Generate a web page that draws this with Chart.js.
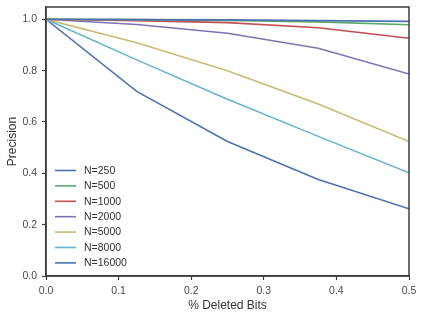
<!DOCTYPE html>
<html><head><meta charset="utf-8">
<script src="https://cdn.jsdelivr.net/npm/chart.js@4"></script>
<style>html,body{margin:0;padding:0;background:#fff}#wrap{width:423px;height:320px}</style>
</head><body><div id="wrap"><canvas id="c" width="423" height="320"></canvas></div>
<script>
const xValues = [0, 0.125, 0.25, 0.375, 0.5];
const labels = ["N=250","N=500","N=1000","N=2000","N=5000","N=8000","N=16000"];
const n250   = [1.0, 0.999, 0.998, 0.995, 0.992];
const n500   = [1.0, 0.999, 0.996, 0.990, 0.979];
const n1000  = [1.0, 0.995, 0.987, 0.967, 0.926];
const n2000  = [1.0, 0.980, 0.946, 0.887, 0.787];
const n5000  = [1.0, 0.909, 0.800, 0.670, 0.524];
const n8000  = [1.0, 0.842, 0.689, 0.544, 0.402];
const n16000 = [1.0, 0.719, 0.524, 0.376, 0.262];
const yTicks = [0, 0.2, 0.4, 0.6, 0.8, 1.0];
const xTicks = [0, 0.1, 0.2, 0.3, 0.4, 0.5];
const colors = ["#4C72B0","#55A868","#C44E52","#8172B2","#CCB974","#64B5CD","#4C72B0"];
const series = [n250,n500,n1000,n2000,n5000,n8000,n16000];

const FONT = "'Liberation Sans', Arial, sans-serif";
const frame = {
  id:'frame',
  afterDraw(chart){
    const {ctx, chartArea:a} = chart;
    ctx.save();
    ctx.strokeStyle = '#3c3c3c'; ctx.lineWidth = 1.5;
    ctx.strokeRect(a.left, a.top, a.right-a.left, a.bottom-a.top);
    const ds = chart.data.datasets;
    ctx.font = "10.5px " + FONT;
    ctx.textBaseline = 'middle';
    const startY = 170.5, step = 15.4;
    ds.forEach((d,i)=>{
      const y = startY + i*step;
      ctx.strokeStyle = d.borderColor; ctx.lineWidth = 1.6;
      ctx.beginPath(); ctx.moveTo(55,y); ctx.lineTo(76,y); ctx.stroke();
      ctx.fillStyle = '#333';
      ctx.fillText(d.label, 84, y+0.5);
    });
    ctx.restore();
  }
};

new Chart(document.getElementById('c'), {
  type:'line',
  data:{
    datasets: series.map((s,i)=>({
      label: labels[i],
      data: s.map((v,j)=>({x:xValues[j], y:v})),
      borderColor: colors[i], backgroundColor: colors[i],
      borderWidth: 1.6, pointRadius: 0, tension: 0, fill:false
    }))
  },
  options:{
    responsive:false, animation:false,
    layout:{padding:{left:0,right:14,top:7,bottom:7}},
    plugins:{legend:{display:false}, tooltip:{enabled:false}},
    scales:{
      x:{type:'linear', min:0, max:0.5,
        afterBuildTicks(s){ s.ticks = xTicks.map(v=>({value:v})); },
        afterFit(s){ s.height = 37; s.paddingLeft = 0; s.paddingRight = 0; },
        grid:{drawOnChartArea:false, drawTicks:true, tickLength:4, color:'#3c3c3c', tickWidth:1.2},
        border:{display:true, color:'#3c3c3c', width:1.5},
        ticks:{color:'#4a4a4a', font:{family:FONT, size:10.5}, padding:5, callback:v=>v.toFixed(1), maxRotation:0},
        title:{display:true, text:'% Deleted Bits', color:'#333', font:{family:FONT, size:12}, padding:{top:0,bottom:0}}
      },
      y:{type:'linear', min:0, max:1.048,
        afterBuildTicks(s){ s.ticks = yTicks.map(v=>({value:v})); },
        afterFit(s){ s.width = 46; s.paddingTop = 0; s.paddingBottom = 0; },
        grid:{drawOnChartArea:false, drawTicks:true, tickLength:4, color:'#3c3c3c', tickWidth:1.2},
        border:{display:true, color:'#3c3c3c', width:1.5},
        ticks:{color:'#4a4a4a', font:{family:FONT, size:10.5}, padding:5, callback:v=>v.toFixed(1)},
        title:{display:true, text:'Precision', color:'#333', font:{family:FONT, size:12}, padding:{top:5,bottom:0}}
      }
    }
  },
  plugins:[frame]
});
</script></body></html>
